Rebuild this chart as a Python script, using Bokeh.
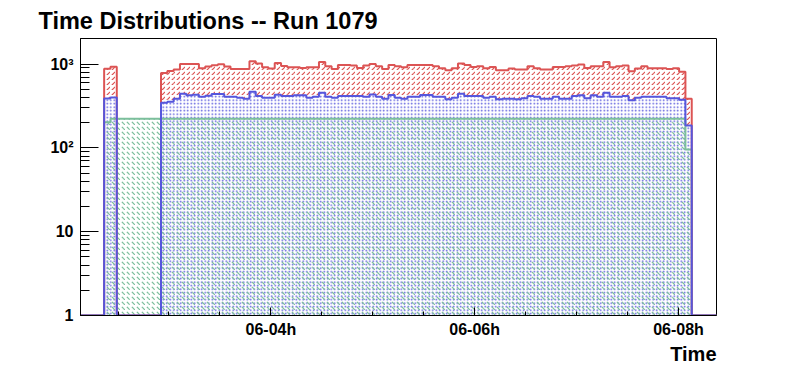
from bokeh.plotting import figure
from bokeh.models import Range1d, FixedTicker, Title
from bokeh.embed import file_html
from bokeh.resources import INLINE

# ---------------- data ----------------
title_text = "Time Distributions -- Run 1079"
x_title = "Time"

# histogram binning (hours since 06-00h)
first_bin_hour = 2.364
bin_width_hour = 0.062

red_counts = [
    878, 927,
    0, 0, 0, 0, 0, 0, 0,
    785, 828, 860, 1003, 1003, 1003, 892, 934, 967, 995, 934, 875, 875, 875, 1080, 1014, 916, 885, 1031, 949, 916,
    916, 899, 916, 916, 1059, 942, 875, 976, 976, 960, 899, 960, 1003, 942, 875, 976, 942, 916, 976, 976,
    976, 976, 942, 892, 845, 892, 1014, 976, 925, 942, 892, 925, 845, 845, 885, 860, 860, 942, 892, 860, 860, 925,
    925, 942, 960, 986, 899, 942, 942, 1059, 916, 942, 960, 822, 885, 942, 892, 892, 892, 875, 892, 810,
    385,
]
blue_counts = [
    388, 399,
    0, 0, 0, 0, 0, 0, 0,
    346, 356, 386, 442, 424, 430, 408, 419, 439, 439, 408, 408, 397, 386, 467, 415, 397, 397, 430, 415, 415,
    424, 424, 397, 408, 455, 408, 397, 415, 415, 415, 415, 408, 435, 408, 386, 427, 397, 386, 408, 408,
    427, 427, 408, 408, 380, 397, 442, 415, 415, 415, 397, 408, 380, 386, 386, 380, 390, 415, 408, 386, 386, 408,
    386, 386, 415, 424, 390, 424, 408, 455, 408, 408, 415, 369, 397, 408, 408, 408, 408, 390, 390, 375,
    185,
]
green_counts = [
    202, 222,
    222, 222, 222, 222, 222, 222, 222,
    222, 222, 222, 222, 222, 222, 222, 222, 222, 222, 222, 222, 222, 222, 222, 222, 222, 222, 222, 222, 222,
    222, 222, 222, 222, 222, 222, 222, 222, 222, 222, 222, 222, 222, 222, 222, 222, 222, 222, 222, 222,
    222, 222, 222, 222, 222, 222, 222, 222, 222, 222, 222, 222, 222, 222, 222, 222, 222, 222, 222, 222, 222, 222,
    222, 222, 222, 222, 222, 222, 222, 222, 222, 222, 222, 222, 222, 222, 222, 222, 222, 222, 222, 222,
    96,
]

x_major_ticks = [4, 6, 8]
x_tick_labels = ["06-04h", "06-06h", "06-08h"]
x_minor_ticks = [2.5, 3.0, 3.5, 4.5, 5.0, 5.5, 6.5, 7.0, 7.5]
y_major_ticks = [1, 10, 100, 1000]
y_tick_labels = ["1", "10", "10\u00b2", "10\u00b3"]
y_minor_ticks = [2, 3, 4, 5, 6, 7, 8, 9, 20, 30, 40, 50, 60, 70, 80, 90,
                 200, 300, 400, 500, 600, 700, 800, 900, 2000]
x_start, x_end = 2.132, 8.373
y_start, y_end = 1, 2020

# ---------------- styles ----------------
RED = "#dc5454"
BLUE = "#5656dc"
GREEN = "#7cbf9c"
FONT = "Liberation Sans"

n = len(red_counts)
lefts = [first_bin_hour + i * bin_width_hour for i in range(n)]
rights = [l + bin_width_hour for l in lefts]

p = figure(width=780, height=364, output_backend="svg", toolbar_location=None,
           y_axis_type="log",
           x_range=Range1d(x_start, x_end), y_range=Range1d(y_start, y_end),
           min_border_left=80, min_border_right=64, min_border_top=37, min_border_bottom=48)
p.background_fill_color = "white"
p.border_fill_color = "white"
p.outline_line_color = "black"
p.outline_line_width = 1
p.outline_line_alpha = 1
p.xgrid.grid_line_color = None
p.ygrid.grid_line_color = None

# hatched areas
def quads(bottoms, tops):
    L, R, B, T = [], [], [], []
    for i in range(n):
        if tops[i] > 0 and tops[i] > bottoms[i]:
            L.append(lefts[i]); R.append(rights[i]); B.append(bottoms[i]); T.append(tops[i])
    return L, R, B, T

red_bottom = [b if b > 0 else y_start for b in blue_counts]
L, R, B, T = quads(red_bottom, red_counts)
p.quad(left=L, right=R, bottom=B, top=T, fill_alpha=0, line_color=None,
       hatch_pattern=",", hatch_color=RED, hatch_scale=5, hatch_weight=1.2)

L, R, B, T = quads([y_start] * n, blue_counts)
p.quad(left=L, right=R, bottom=B, top=T, fill_alpha=0, line_color=None,
       hatch_pattern=".", hatch_color=BLUE, hatch_scale=3.5, hatch_weight=1.2)

L, R, B, T = quads([y_start] * n, green_counts)
p.quad(left=L, right=R, bottom=B, top=T, fill_alpha=0, line_color=None,
       hatch_pattern="`", hatch_color=GREEN, hatch_scale=5, hatch_weight=1.2)

# outlines
def step_path(values):
    xs = [x_start, lefts[0]]
    ys = [y_start, y_start]
    for i, v in enumerate(values):
        vv = v if v > 0 else y_start
        xs += [lefts[i], rights[i]]
        ys += [vv, vv]
    xs += [rights[-1], x_end]
    ys += [y_start, y_start]
    return xs, ys

for vals, col in ((green_counts, GREEN), (red_counts, RED), (blue_counts, BLUE)):
    xs, ys = step_path(vals)
    p.line(xs, ys, line_color=col, line_width=2)

# axes
for ax in (p.xaxis[0], p.yaxis[0]):
    ax.axis_line_color = "black"
    ax.axis_line_width = 1
    ax.major_tick_line_color = "black"
    ax.minor_tick_line_color = "black"
    ax.major_tick_out = 0
    ax.minor_tick_out = 0
    ax.major_label_text_font = FONT
    ax.major_label_text_font_style = "bold"
    ax.major_label_text_font_size = "16px"
    ax.major_label_text_color = "black"

p.xaxis.ticker = FixedTicker(ticks=x_major_ticks, minor_ticks=x_minor_ticks)
p.xaxis.major_label_overrides = dict(zip(x_major_ticks, x_tick_labels))
p.xaxis.major_tick_in = 8
p.xaxis.minor_tick_in = 4
p.xaxis.major_label_standoff = 5

p.yaxis.ticker = FixedTicker(ticks=y_major_ticks, minor_ticks=y_minor_ticks)
p.yaxis.major_label_overrides = dict(zip(y_major_ticks, y_tick_labels))
p.yaxis.major_tick_in = 18
p.yaxis.minor_tick_in = 9
p.yaxis.major_label_standoff = 7

# title
p.title.text = title_text
p.title.text_font = FONT
p.title.text_font_style = "bold"
p.title.text_font_size = "23.5px"
p.title.align = "left"
p.title.offset = -42
p.title.standoff = 10
p.title.text_color = "black"

p.add_layout(Title(text=x_title, align="right", text_font=FONT, text_font_style="bold",
                   text_font_size="20px", text_color="black", standoff=0), "below")

open("out.html", "w").write(file_html(p, INLINE))
